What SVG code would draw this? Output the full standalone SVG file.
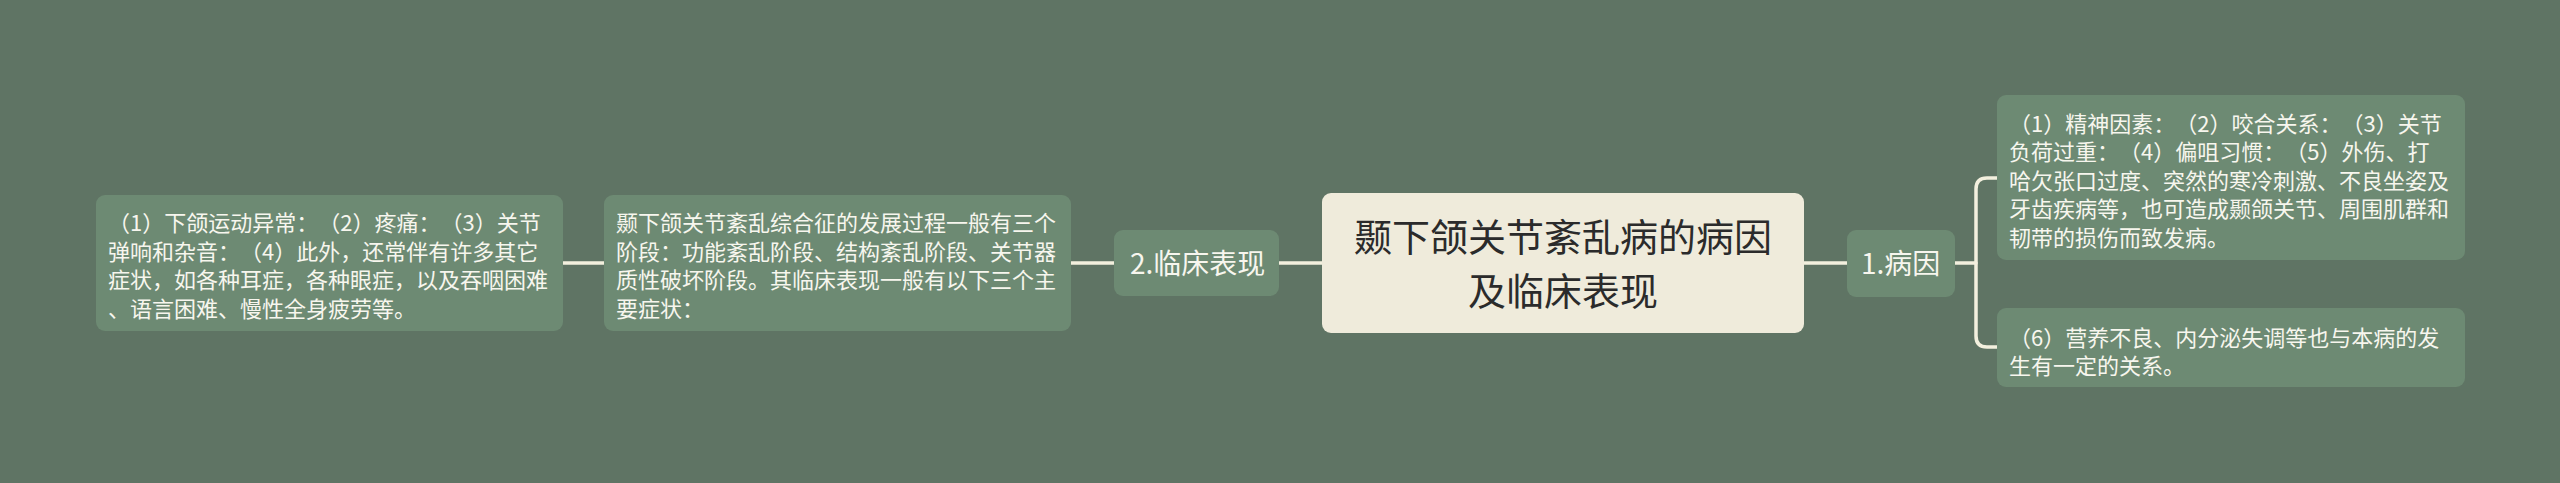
<svg xmlns="http://www.w3.org/2000/svg" width="2560" height="483" viewBox="0 0 2560 483">
<style>
.bg{fill:#5f7464}
.sub{fill:#6d8a73}
.root{fill:#efebdb}
.conn{fill:none;stroke:#f3f0de;stroke-width:3.5;stroke-linecap:round}
text{text-spacing-trim:space-all;font-feature-settings:"chws" 0,"halt" 0,"palt" 0;font-kerning:none}
.t22{font-family:"Noto Sans CJK SC","Noto Sans",sans-serif;font-size:22px;fill:#f7f6ee}
.t28{font-family:"Noto Sans CJK SC","Noto Sans",sans-serif;font-size:28px;fill:#f7f6ee}
.t38{font-family:"Noto Sans CJK SC","Noto Sans",sans-serif;font-size:38px;fill:#2b2b2b;text-anchor:middle}
</style>
<rect class="bg" x="0" y="0" width="2560" height="483"/>
<g id="connectors">
<line class="conn" x1="563" y1="263" x2="604" y2="263"/>
<line class="conn" x1="1071" y1="263" x2="1114" y2="263"/>
<line class="conn" x1="1279" y1="263" x2="1322" y2="263"/>
<line class="conn" x1="1804" y1="263" x2="1847" y2="263"/>
<line class="conn" x1="1955" y1="263" x2="1976" y2="263"/>
<path class="conn" d="M1997 178 H1987 Q1976 178 1976 189 V336 Q1976 347 1987 347 H1997"/>
</g>
<g id="root">
<rect class="root" x="1322" y="193" width="482" height="140" rx="9"/>
<text class="t38" x="1563" y="251">颞下颌关节紊乱病的病因</text>
<text class="t38" x="1563" y="305">及临床表现</text>
</g>
<g id="n-cause">
<rect class="sub" x="1847" y="230" width="108" height="67" rx="9"/>
<text class="t28" x="1861" y="274">1.病因</text>
</g>
<g id="n-cause-1">
<rect class="sub" x="1997" y="95" width="468" height="165" rx="9"/>
<text class="t22" x="2009" y="131.5">（1）精神因素：（2）咬合关系：（3）关节</text>
<text class="t22" x="2009" y="160">负荷过重：（4）偏咀习惯：（5）外伤、打</text>
<text class="t22" x="2009" y="188.5">哈欠张口过度、突然的寒冷刺激、不良坐姿及</text>
<text class="t22" x="2009" y="217">牙齿疾病等，也可造成颞颌关节、周围肌群和</text>
<text class="t22" x="2009" y="245.5">韧带的损伤而致发病。</text>
</g>
<g id="n-cause-2">
<rect class="sub" x="1997" y="308" width="468" height="79" rx="9"/>
<text class="t22" x="2009" y="345.5">（6）营养不良、内分泌失调等也与本病的发</text>
<text class="t22" x="2009" y="374">生有一定的关系。</text>
</g>
<g id="n-clinical">
<rect class="sub" x="1114" y="230" width="165" height="66" rx="9"/>
<text class="t28" x="1130" y="274">2.临床表现</text>
</g>
<g id="n-clinical-1">
<rect class="sub" x="604" y="195" width="467" height="136" rx="9"/>
<text class="t22" x="616" y="231">颞下颌关节紊乱综合征的发展过程一般有三个</text>
<text class="t22" x="616" y="259.5">阶段：功能紊乱阶段、结构紊乱阶段、关节器</text>
<text class="t22" x="616" y="288">质性破坏阶段。其临床表现一般有以下三个主</text>
<text class="t22" x="616" y="316.5">要症状：</text>
</g>
<g id="n-clinical-2">
<rect class="sub" x="96" y="195" width="467" height="136" rx="9"/>
<text class="t22" x="108" y="231">（1）下颌运动异常：（2）疼痛：（3）关节</text>
<text class="t22" x="108" y="259.5">弹响和杂音：（4）此外，还常伴有许多其它</text>
<text class="t22" x="108" y="288">症状，如各种耳症，各种眼症，以及吞咽困难</text>
<text class="t22" x="108" y="316.5">、语言困难、慢性全身疲劳等。</text>
</g>
</svg>
